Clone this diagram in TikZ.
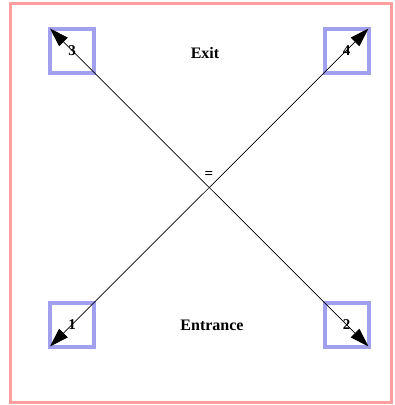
\documentclass[tikz,border=0pt]{standalone}
\usepackage{fontspec}
\setmainfont{Liberation Serif}
\usetikzlibrary{arrows.meta, positioning}
\definecolor{framepink}{RGB}{255,158,158}
\definecolor{cellblue}{RGB}{160,160,238}

\begin{document}
\begin{tikzpicture}[
    x=1pt, y=-1pt,
    cell/.style={rectangle, draw=cellblue, line width=4pt, minimum width=44pt, minimum height=44pt, outer sep=0pt, inner sep=0pt, font=\fontsize{15}{17}\selectfont\bfseries},
    tag/.style={font=\fontsize{16}{18}\selectfont\bfseries},
    arrow/.style={{Triangle[length=19pt, width=12pt]}-{Triangle[length=19pt, width=12pt]}, line width=0.7pt, color=black}
]
    \useasboundingbox (0,0) rectangle (395,405);
    \draw[framepink, line width=3pt] (10.5,3) rectangle (391.5,402);

    \node[cell] (box3) at (72,50.5) {3};
    \node[cell] (box4) at (346.5,50.5) {4};
    \node[cell] (box1) at (72,324.5) {1};
    \node[cell] (box2) at (346.5,324.5) {2};

    \draw[arrow] (box1.south west) -- (box4.north east);
    \draw[arrow] (box3.north west) -- (box2.south east);

    \node[tag] (exit) at (205,53) {Exit};
    \node[tag] (entrance) at (212,325) {Entrance};
    \node[font=\fontsize{15}{17}\selectfont\bfseries] (eq) at (209,175) {=};
\end{tikzpicture}
\end{document}
